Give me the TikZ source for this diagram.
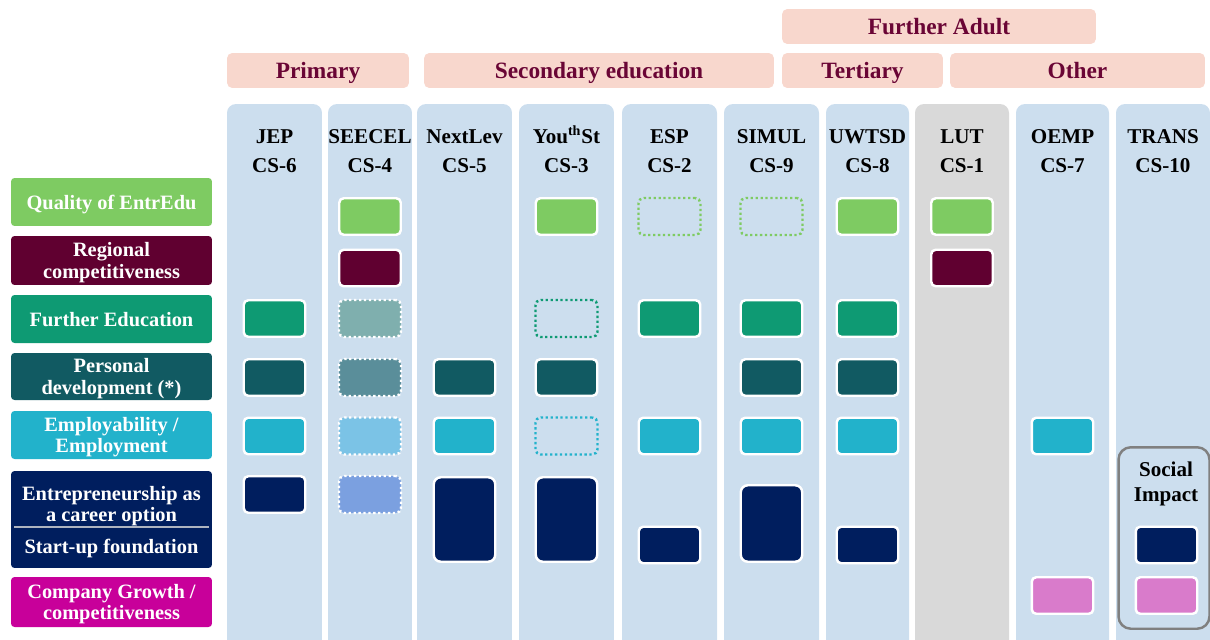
\documentclass[tikz,border=0pt]{standalone}
\usepackage{fontspec}
\setmainfont{Liberation Serif}

\definecolor{stagepink}{HTML}{F8D7CD}
\definecolor{stagetext}{HTML}{6A0535}
\definecolor{colblue}{HTML}{CCDEEE}
\definecolor{lutgray}{HTML}{D9D9D9}
\definecolor{qualgreen}{HTML}{7ECB62}
\definecolor{regmaroon}{HTML}{600030}
\definecolor{furgreen}{HTML}{0E9A73}
\definecolor{perteal}{HTML}{115A62}
\definecolor{empcyan}{HTML}{22B2CB}
\definecolor{entnavy}{HTML}{001E5E}
\definecolor{compmag}{HTML}{C8009A}
\definecolor{comppink}{HTML}{D97BCB}
\definecolor{palefur}{HTML}{7FAFAE}
\definecolor{paleper}{HTML}{5A8E9A}
\definecolor{paleemp}{HTML}{7BC3E6}
\definecolor{paleent}{HTML}{7BA0E0}
\definecolor{impactgray}{HTML}{808080}

\begin{document}
\begin{tikzpicture}[x=0.02cm, y=-0.02cm,
stage/.style={fill=stagepink, text=stagetext, rounded corners=3pt, minimum height=0.7cm, inner sep=0pt, text height=8.8pt, text depth=0pt, font=\bfseries\fontsize{13.3}{15}\selectfont},
casecol/.style={fill=colblue, rounded corners=5pt, minimum height=11.12cm, inner sep=0pt},
casename/.style={align=center, inner sep=0pt, text height=25pt, text depth=0pt, font=\bfseries\fontsize{12}{17}\selectfont},
theme/.style={text=white, align=center, rounded corners=2pt, minimum width=4.02cm, inner sep=0pt, text depth=0pt, font=\bfseries\fontsize{11.6}{12.3}\selectfont},
cell/.style={draw=white, line width=1.4pt, rounded corners=2.5pt, minimum width=1.23cm, minimum height=0.73cm, inner sep=0pt},
dots/.style={line width=1.4pt, dash pattern=on 1.3pt off 1.5pt, rounded corners=3pt, minimum width=1.24cm, minimum height=0.74cm, inner sep=0pt}]

\useasboundingbox (0,0) rectangle (1210,639);

% rows
\coordinate (names) at (0,151);
\coordinate (quality) at (0,216.5);
\coordinate (regional) at (0,268);
\coordinate (further) at (0,318.5);
\coordinate (personal) at (0,377.5);
\coordinate (employ) at (0,436);
\coordinate (career) at (0,494.5);
\coordinate (startup) at (0,545);
\coordinate (company) at (0,595.5);
\coordinate (split) at (0,527);

% education stages
\node (adult) [stage, minimum width=6.28cm] at (939,26.5) {Further Adult};
\node (primary) [stage, minimum width=3.64cm] at (318,70.5) {Primary};
\node (secondary) [stage, minimum width=7cm] at (599,70.5) {Secondary education};
\node (tertiary) [stage, minimum width=3.22cm] at (862.5,70.5) {Tertiary};
\node (other) [stage, minimum width=5.1cm] at (1077.5,70.5) {Other};

% case studies
\node (jep) [casecol, minimum width=1.9cm] at (274.5,382) {};
\node (seecel) [casecol, minimum width=1.68cm] at (370,382) {};
\node (nextlev) [casecol, minimum width=1.9cm] at (464.5,382) {};
\node (youth) [casecol, minimum width=1.9cm] at (566.5,382) {};
\node (esp) [casecol, minimum width=1.9cm] at (669.5,382) {};
\node (simul) [casecol, minimum width=1.9cm] at (771.5,382) {};
\node (uwtsd) [casecol, minimum width=1.66cm] at (867.5,382) {};
\node (lut) [casecol, fill=lutgray, minimum width=1.88cm] at (962,382) {};
\node (oemp) [casecol, minimum width=1.86cm] at (1062.5,382) {};
\node (trans) [casecol, minimum width=1.88cm] at (1163,382) {};

\node (jep-t) [casename] at (jep |- names) {JEP\\CS-6};
\node (seecel-t) [casename] at (seecel |- names) {SEECEL\\CS-4};
\node (nextlev-t) [casename] at (nextlev |- names) {NextLev\\CS-5};
\node (youth-t) [casename] at (youth |- names) {You\textsuperscript{th}St\\CS-3};
\node (esp-t) [casename] at (esp |- names) {ESP\\CS-2};
\node (simul-t) [casename] at (simul |- names) {SIMUL\\CS-9};
\node (uwtsd-t) [casename] at (uwtsd |- names) {UWTSD\\CS-8};
\node (lut-t) [casename] at (lut |- names) {LUT\\CS-1};
\node (oemp-t) [casename] at (oemp |- names) {OEMP\\CS-7};
\node (trans-t) [casename] at (trans |- names) {TRANS\\CS-10};

% impact themes
\node (quality-t) [theme, fill=qualgreen, minimum height=0.96cm] at (111.5,202) {Quality of EntrEdu};
\node (regional-t) [theme, fill=regmaroon, minimum height=0.98cm] at (111.5,260.5) {Regional\\competitiveness};
\node (further-t) [theme, fill=furgreen, minimum height=0.96cm] at (111.5,319) {Further Education};
\node (personal-t) [theme, fill=perteal, minimum height=0.94cm] at (111.5,376.5) {Personal\\development (*)};
\node (employ-t) [theme, fill=empcyan, minimum height=0.96cm] at (111.5,435) {Employability /\\Employment};
\node (career-t) [theme, fill=entnavy, minimum height=1.94cm] at (111.5,519.5) {};
\node (career-a) [theme, minimum width=0pt] at (111.5,504) {Entrepreneurship as\\a career option};
\node (career-b) [theme, minimum width=0pt] at (111.5,546) {Start-up foundation};
\draw [draw=lutgray!80!entnavy, line width=0.9pt] ([xshift=2pt]career-t.west |- split) -- ([xshift=-2pt]career-t.east |- split);
\node (company-t) [theme, fill=compmag, minimum height=1cm] at (111.5,602) {Company Growth /\\competitiveness};

% JEP
\node (jep-fe) [cell, fill=furgreen] at (jep |- further) {};
\node (jep-pd) [cell, fill=perteal] at (jep |- personal) {};
\node (jep-em) [cell, fill=empcyan] at (jep |- employ) {};
\node (jep-ca) [cell, fill=entnavy] at (jep |- career) {};
% SEECEL
\node (seecel-qu) [cell, fill=qualgreen] at (seecel |- quality) {};
\node (seecel-rc) [cell, fill=regmaroon] at (seecel |- regional) {};
\node (seecel-fe) [dots, draw=white, fill=palefur] at (seecel |- further) {};
\node (seecel-pd) [dots, draw=white, fill=paleper] at (seecel |- personal) {};
\node (seecel-em) [dots, draw=white, fill=paleemp] at (seecel |- employ) {};
\node (seecel-ca) [dots, draw=white, fill=paleent] at (seecel |- career) {};
% NextLev
\node (nextlev-pd) [cell, fill=perteal] at (nextlev |- personal) {};
\node (nextlev-em) [cell, fill=empcyan] at (nextlev |- employ) {};
\node (nextlev-ca) [cell, fill=entnavy, rounded corners=4pt, minimum height=1.69cm] at (464.5,519.5) {};
% YouthSt
\node (youth-qu) [cell, fill=qualgreen] at (youth |- quality) {};
\node (youth-fe) [dots, draw=furgreen] at (youth |- further) {};
\node (youth-pd) [cell, fill=perteal] at (youth |- personal) {};
\node (youth-em) [dots, draw=empcyan] at (youth |- employ) {};
\node (youth-ca) [cell, fill=entnavy, rounded corners=4pt, minimum height=1.69cm] at (566.5,519.5) {};
% ESP
\node (esp-qu) [dots, draw=qualgreen] at (esp |- quality) {};
\node (esp-fe) [cell, fill=furgreen] at (esp |- further) {};
\node (esp-em) [cell, fill=empcyan] at (esp |- employ) {};
\node (esp-su) [cell, fill=entnavy] at (esp |- startup) {};
% SIMUL
\node (simul-qu) [dots, draw=qualgreen] at (simul |- quality) {};
\node (simul-fe) [cell, fill=furgreen] at (simul |- further) {};
\node (simul-pd) [cell, fill=perteal] at (simul |- personal) {};
\node (simul-em) [cell, fill=empcyan] at (simul |- employ) {};
\node (simul-ca) [cell, fill=entnavy, rounded corners=4pt, minimum height=1.53cm] at (771.5,523.5) {};
% UWTSD
\node (uwtsd-qu) [cell, fill=qualgreen] at (uwtsd |- quality) {};
\node (uwtsd-fe) [cell, fill=furgreen] at (uwtsd |- further) {};
\node (uwtsd-pd) [cell, fill=perteal] at (uwtsd |- personal) {};
\node (uwtsd-em) [cell, fill=empcyan] at (uwtsd |- employ) {};
\node (uwtsd-su) [cell, fill=entnavy] at (uwtsd |- startup) {};
% LUT
\node (lut-qu) [cell, fill=qualgreen] at (lut |- quality) {};
\node (lut-rc) [cell, fill=regmaroon] at (lut |- regional) {};
% OEMP
\node (oemp-em) [cell, fill=empcyan] at (oemp |- employ) {};
\node (oemp-cg) [cell, fill=comppink] at (oemp |- company) {};
% TRANS
\node (social) [draw=impactgray, line width=1.4pt, rounded corners=7pt, minimum width=1.82cm, minimum height=3.63cm, inner sep=0pt] at (1164,538) {};
\node (social-t) [casename, text height=22pt, font=\bfseries\fontsize{12}{14}\selectfont] at (1166,482) {Social\\Impact};
\node (trans-su) [cell, fill=entnavy] at (1166.5,545) {};
\node (trans-cg) [cell, fill=comppink] at (1166.5,595.5) {};
\end{tikzpicture}
\end{document}
